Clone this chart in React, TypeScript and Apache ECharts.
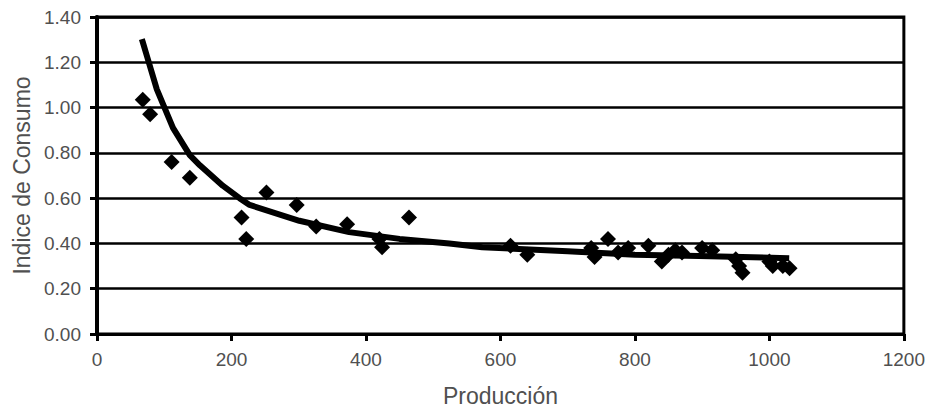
import React, { useEffect, useRef } from "react";
import * as echarts from "echarts";

// Observed points (Producción, Indice de Consumo)
const produccion = [68, 79, 111, 138, 215, 222, 252, 297, 326, 372, 420, 424, 464, 615, 640, 735, 740, 760, 775, 790, 820, 840, 850, 860, 870, 900, 915, 950, 955, 960, 1000, 1005, 1020, 1030];
const indice = [1.035, 0.97, 0.76, 0.69, 0.515, 0.42, 0.625, 0.57, 0.475, 0.485, 0.42, 0.383, 0.515, 0.39, 0.35, 0.38, 0.34, 0.42, 0.36, 0.38, 0.39, 0.32, 0.35, 0.37, 0.36, 0.38, 0.37, 0.33, 0.3, 0.27, 0.32, 0.3, 0.3, 0.29];

// Trend line
const trendX = [68, 74, 89, 113, 138, 153, 187, 212, 227, 301, 375, 450, 524, 573, 700, 800, 895, 1025];
const trendY = [1.29, 1.23, 1.08, 0.91, 0.79, 0.745, 0.655, 0.6, 0.57, 0.5, 0.45, 0.42, 0.4, 0.383, 0.365, 0.35, 0.345, 0.335];

const xTicks = { min: 0, max: 1200, interval: 200 };
const yTicks = { min: 0, max: 1.4, interval: 0.2 };

const textColor = "#505050";
const font = "'Liberation Sans', Arial, sans-serif";

export default function App() {
  const ref = useRef<HTMLDivElement>(null);
  useEffect(() => {
    if (!ref.current) return;
    const chart = echarts.init(ref.current, null, { renderer: "svg" });
    chart.setOption({
      animation: false,
      backgroundColor: "#ffffff",
      grid: {
        left: 97,
        right: 21,
        top: 17,
        bottom: 77,
        show: true,
        borderColor: "#000",
        borderWidth: 3,
        backgroundColor: "transparent",
      },
      xAxis: {
        type: "value",
        min: xTicks.min,
        max: xTicks.max,
        interval: xTicks.interval,
        name: "Producción",
        nameLocation: "middle",
        nameGap: 50,
        nameTextStyle: { fontSize: 23, color: textColor, fontFamily: font },
        axisLine: { show: true, lineStyle: { color: "#000", width: 3 } },
        axisTick: { show: true, length: 7, lineStyle: { color: "#000", width: 3 } },
        axisLabel: {
          fontSize: 19,
          color: textColor,
          fontFamily: font,
          margin: 16,
          formatter: (v: number) => String(v),
        },
        splitLine: { show: false },
      },
      yAxis: {
        type: "value",
        min: yTicks.min,
        max: yTicks.max,
        interval: yTicks.interval,
        name: "Indice de Consumo",
        nameLocation: "middle",
        nameRotate: 90,
        nameGap: 64,
        nameTextStyle: { fontSize: 23, color: textColor, fontFamily: font },
        axisLine: { show: true, lineStyle: { color: "#000", width: 4 } },
        axisTick: { show: true, length: 7, lineStyle: { color: "#000", width: 3 } },
        axisLabel: {
          fontSize: 19,
          color: textColor,
          fontFamily: font,
          margin: 16,
          formatter: (v: number) => v.toFixed(2),
        },
        splitLine: { show: true, lineStyle: { color: "#000", width: 2.5 } },
      },
      series: [
        {
          type: "scatter",
          data: produccion.map((x, i) => [x, indice[i]]),
          symbol: "diamond",
          symbolSize: 16,
          itemStyle: { color: "#000", opacity: 1 },
          z: 3,
        },
        {
          type: "line",
          data: trendX.map((x, i) => [x, trendY[i]]),
          showSymbol: false,
          symbol: "none",
          lineStyle: { color: "#000", width: 6, cap: "square" },
          z: 4,
        },
      ],
    });
    return () => chart.dispose();
  }, []);
  return (
    <div
      ref={ref}
      style={{ position: "fixed", left: 0, top: 0, width: 928, height: 412, background: "#fff" }}
    />
  );
}
